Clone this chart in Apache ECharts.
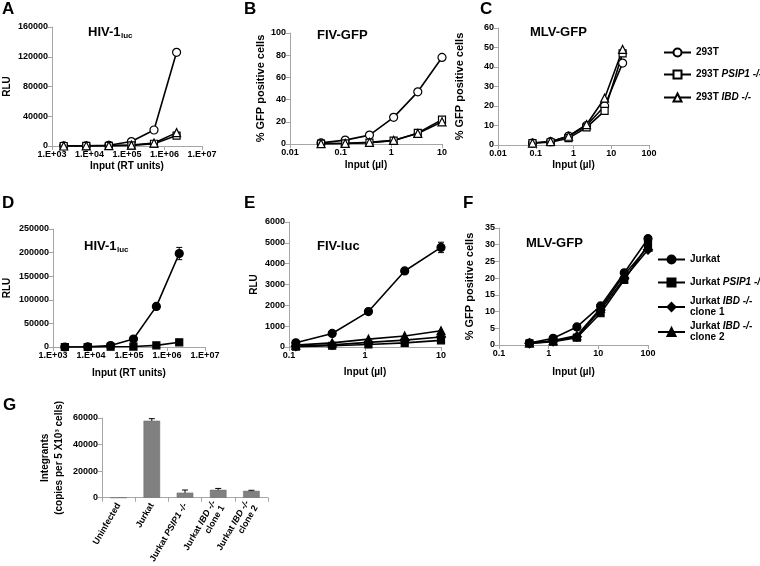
<!DOCTYPE html>
<html><head><meta charset="utf-8">
<script src="https://cdn.jsdelivr.net/npm/echarts@6/dist/echarts.min.js"></script>
<style>html,body{margin:0;padding:0;background:#fff}#c{width:760px;height:566px}</style>
</head><body><div id="c"></div>
<script>
// ---------- DATA ----------
const hivX = [2050, 8200, 32800, 131000, 525000, 2100000];      // RT units (A, D)
const fivX = [0.041, 0.123, 0.37, 1.11, 3.33, 10];               // µl (B)
const mlvX = [0.082, 0.247, 0.74, 2.22, 6.67, 20];               // µl (C)
const fivLucX = [0.123, 0.37, 1.11, 3.33, 10];                   // µl (E)
const mlvJX = [0.41, 1.23, 3.7, 11.1, 33.3, 100];                // µl (F)

const seriesTop = ['293T', '293T PSIP1 -/-', '293T IBD -/-'];
const seriesBot = ['Jurkat', 'Jurkat PSIP1 -/-', 'Jurkat IBD -/- clone 1', 'Jurkat IBD -/- clone 2'];

const a293T  = [200, 300, 900, 6000, 21500, 126000];
const aPSIP1 = [0, 100, 300, 800, 3000, 14000];
const aIBD   = [0, 200, 500, 1200, 4000, 18000];
const a293TErr = [0, 0, 0, 0, 1000, 3000];

const b293T  = [1, 3.5, 8, 24, 47, 78];
const bPSIP1 = [0.3, 0.5, 1.2, 3, 10, 22];
const bIBD   = [0.3, 0.6, 1.5, 3.3, 9.5, 20];

const c293T  = [1, 1.7, 4.6, 10, 20, 42];
const cPSIP1 = [1, 1.4, 3.5, 9, 17.5, 47];
const cIBD   = [1, 1.8, 4.5, 10.5, 24, 49];

const dJurkat = [0, 500, 3000, 17000, 86000, 198000];
const dPSIP1  = [0, 0, 500, 1000, 3500, 10000];
const dJurkatErr = [0, 0, 0, 1000, 3000, 13000];

const eJurkat = [200, 650, 1700, 3650, 4780];
const ePSIP1  = [20, 60, 120, 200, 320];
const eClone1 = [40, 100, 220, 330, 480];
const eClone2 = [90, 200, 380, 530, 780];
const eJurkatErr = [0, 0, 30, 80, 250];

const fJurkat = [0.6, 2, 5.4, 11.7, 21.6, 31.8];
const fPSIP1  = [0.5, 1, 2.2, 9.5, 19.5, 30];
const fClone1 = [0.5, 1.1, 2.5, 10.5, 20, 28.5];
const fClone2 = [0.6, 1.3, 2.8, 11, 21, 29.3];

const gCats = ['Uninfected', 'Jurkat', 'Jurkat PSIP1 -/-', 'Jurkat IBD -/- clone 1', 'Jurkat IBD -/- clone 2'];
const gValues = [0, 58000, 3800, 6000, 5200];
const gErr = [0, 1500, 2000, 1000, 400];

// ---------- STYLE / BUILD ----------
const FF = '"Liberation Sans", Arial, sans-serif';
const AX = '#a6a6a6';
const ital = s => s.replace(/(PSIP1 -\/-|IBD -\/-)/, '{i|$1}').replace(' clone', '\nclone');

const grids = [
  {left: 52, top: 27, width: 150, height: 119},
  {left: 290, top: 33, width: 152, height: 111},
  {left: 498, top: 28, width: 151, height: 117},
  {left: 53, top: 229, width: 152, height: 118},
  {left: 289, top: 222, width: 152, height: 125},
  {left: 499, top: 228, width: 149, height: 117},
  {left: 102, top: 418, width: 166, height: 87}
];

const lbl = {color: '#000', fontFamily: FF, fontSize: 9, fontWeight: 'bold', margin: 4};
const nameTS = {color: '#000', fontFamily: FF, fontSize: 10, fontWeight: 'bold'};

function yAx(gi, max, interval, name, gap, fs) {
  return {type: 'value', gridIndex: gi, min: 0, max, interval, name, nameLocation: 'middle', nameGap: gap, nameRotate: 90,
    nameTextStyle: Object.assign({}, nameTS, {fontSize: fs || 10}),
    axisLine: {show: true, onZero: false, lineStyle: {color: AX}},
    axisTick: {show: true, length: 4, lineStyle: {color: AX}},
    splitLine: {show: false}, axisLabel: Object.assign({}, lbl, {formatter: v => String(v)})};
}
const sciFmt = v => '1.E+' + String(Math.round(Math.log10(v))).padStart(2, '0');
const decFmt = v => String(+(+v).toPrecision(2));
function xLog(gi, min, max, fmt, name, gap) {
  return {type: 'log', logBase: 10, gridIndex: gi, min, max, name, nameLocation: 'middle', nameGap: gap,
    nameTextStyle: nameTS,
    axisLine: {show: true, onZero: false, lineStyle: {color: AX}},
    axisTick: {show: true, length: 4, lineStyle: {color: AX}},
    minorTick: {show: false}, splitLine: {show: false},
    axisLabel: Object.assign({}, lbl, {formatter: fmt})};
}

function line(name, xs, ys, gi, symbol, size, filled) {
  return {type: 'line', name, xAxisIndex: gi, yAxisIndex: gi, data: xs.map((x, i) => [x, ys[i]]),
    symbol, symbolSize: size, showSymbol: true, z: 3,
    lineStyle: {color: '#000', width: 1.6},
    itemStyle: {color: filled ? '#000' : '#fff', borderColor: '#000', borderWidth: 1.2},
    emphasis: {disabled: true}};
}
function errBars(xs, ys, es, gi) {
  return {type: 'custom', xAxisIndex: gi, yAxisIndex: gi, z: 2, silent: true,
    data: xs.map((x, i) => [x, ys[i], es[i]]).filter(d => d[2] > 0),
    renderItem: (p, api) => {
      const x = api.value(0), y = api.value(1), e = api.value(2);
      const t = api.coord([x, y + e]), b = api.coord([x, y - e]);
      const w = 3, st = {stroke: '#000', lineWidth: 1};
      return {type: 'group', children: [
        {type: 'line', shape: {x1: t[0], y1: t[1], x2: b[0], y2: b[1]}, style: st},
        {type: 'line', shape: {x1: t[0] - w, y1: t[1], x2: t[0] + w, y2: t[1]}, style: st},
        {type: 'line', shape: {x1: b[0] - w, y1: b[1], x2: b[0] + w, y2: b[1]}, style: st}
      ]};
    }};
}

const xAxes = [
  xLog(0, 1000, 1e7, sciFmt, 'Input (RT units)', 15),
  xLog(1, 0.01, 10, decFmt, 'Input (µl)', 16),
  xLog(2, 0.01, 100, decFmt, 'Input (µl)', 15),
  xLog(3, 1000, 1e7, sciFmt, 'Input (RT units)', 21),
  xLog(4, 0.1, 10, decFmt, 'Input (µl)', 20),
  xLog(5, 0.1, 100, decFmt, 'Input (µl)', 22),
  {type: 'category', gridIndex: 6, data: gCats,
    axisLine: {show: true, lineStyle: {color: AX}},
    axisTick: {show: true, length: 4, alignWithLabel: false, lineStyle: {color: AX}},
    axisLabel: Object.assign({}, lbl, {interval: 0, rotate: 60, margin: 6, lineHeight: 10, formatter: ital,
      rich: {i: {fontStyle: 'italic', fontWeight: 'bold', fontSize: 9, fontFamily: FF, color: '#000'}}})}
];
const yAxes = [
  yAx(0, 160000, 40000, 'RLU', 40),
  yAx(1, 100, 20, '% GFP positive cells', 24, 11),
  yAx(2, 60, 10, '% GFP positive cells', 33, 11),
  yAx(3, 250000, 50000, 'RLU', 41),
  yAx(4, 6000, 1000, 'RLU', 30),
  yAx(5, 35, 5, '% GFP positive cells', 24, 11),
  Object.assign(yAx(6, 60000, 20000, '', 36), {
    name: '{a|Integrants}\n{a|(copies per 5 X10³ cells)}',
    nameTextStyle: {color: '#000', fontFamily: FF, fontSize: 10, fontWeight: 'bold', lineHeight: 14,
      rich: {a: {fontFamily: FF, fontSize: 10, fontWeight: 'bold', color: '#000', align: 'center'}}}})
];

const series = [
  errBars(hivX, a293T, a293TErr, 0),
  line(seriesTop[0], hivX, a293T, 0, 'circle', 8, false),
  line(seriesTop[1], hivX, aPSIP1, 0, 'rect', 7, false),
  line(seriesTop[2], hivX, aIBD, 0, 'triangle', 8, false),
  line(seriesTop[0], fivX, b293T, 1, 'circle', 8, false),
  line(seriesTop[1], fivX, bPSIP1, 1, 'rect', 7, false),
  line(seriesTop[2], fivX, bIBD, 1, 'triangle', 8, false),
  line(seriesTop[0], mlvX, c293T, 2, 'circle', 8, false),
  line(seriesTop[1], mlvX, cPSIP1, 2, 'rect', 7, false),
  line(seriesTop[2], mlvX, cIBD, 2, 'triangle', 8, false),
  errBars(hivX, dJurkat, dJurkatErr, 3),
  line(seriesBot[0], hivX, dJurkat, 3, 'circle', 8, true),
  line(seriesBot[1], hivX, dPSIP1, 3, 'rect', 7, true),
  errBars(fivLucX, eJurkat, eJurkatErr, 4),
  line(seriesBot[0], fivLucX, eJurkat, 4, 'circle', 8, true),
  line(seriesBot[1], fivLucX, ePSIP1, 4, 'rect', 7, true),
  line(seriesBot[2], fivLucX, eClone1, 4, 'diamond', 9, true),
  line(seriesBot[3], fivLucX, eClone2, 4, 'triangle', 8, true),
  line(seriesBot[0], mlvJX, fJurkat, 5, 'circle', 8, true),
  line(seriesBot[1], mlvJX, fPSIP1, 5, 'rect', 7, true),
  line(seriesBot[2], mlvJX, fClone1, 5, 'diamond', 9, true),
  line(seriesBot[3], mlvJX, fClone2, 5, 'triangle', 8, true),
  {type: 'bar', xAxisIndex: 6, yAxisIndex: 6, data: gValues, barWidth: '50%',
    itemStyle: {color: '#808080', borderColor: '#6e6e6e', borderWidth: 0.5}, emphasis: {disabled: true}},
  errBars(gCats, gValues, gErr, 6)
];

const legTS = {color: '#000', fontFamily: FF, fontSize: 10, fontWeight: 'bold', lineHeight: 11,
  rich: {i: {fontStyle: 'italic', fontWeight: 'bold', fontSize: 10, fontFamily: FF, color: '#000', lineHeight: 11}}};
function leg(name, left, top) {
  return {data: [name], left, top, orient: 'vertical', itemWidth: 27, itemHeight: 10,
    selectedMode: false, formatter: ital, textStyle: legTS, padding: 0};
}
const legends = [
  leg(seriesTop[0], 663, 47), leg(seriesTop[1], 663, 69), leg(seriesTop[2], 663, 92),
  leg(seriesBot[0], 657, 254), leg(seriesBot[1], 657, 277), leg(seriesBot[2], 657, 296), leg(seriesBot[3], 657, 321)
];

function txt(x, y, text, size) {
  return {type: 'text', x, y, silent: true,
    style: {text, fill: '#000', font: 'bold ' + size + 'px ' + FF, verticalAlign: 'middle', align: 'left'}};
}
const graphics = [
  txt(2, 9, 'A', 17), txt(244, 9, 'B', 17), txt(480, 9, 'C', 17),
  txt(2, 203, 'D', 17), txt(244, 203, 'E', 17), txt(463, 203, 'F', 17), txt(3, 405, 'G', 17),
  txt(88, 32, 'HIV-1', 13), txt(121, 36, 'luc', 8),
  txt(317, 35, 'FIV-GFP', 13),
  txt(530, 32, 'MLV-GFP', 13),
  txt(84, 246, 'HIV-1', 13), txt(117, 250, 'luc', 8),
  txt(317, 246, 'FIV-luc', 13),
  txt(526, 243, 'MLV-GFP', 13)
];

const chart = echarts.init(document.getElementById('c'), null, {renderer: 'canvas'});
chart.setOption({
  animation: false, backgroundColor: '#fff',
  grid: grids, xAxis: xAxes, yAxis: yAxes, series, legend: legends, graphic: graphics
});
</script></body></html>
